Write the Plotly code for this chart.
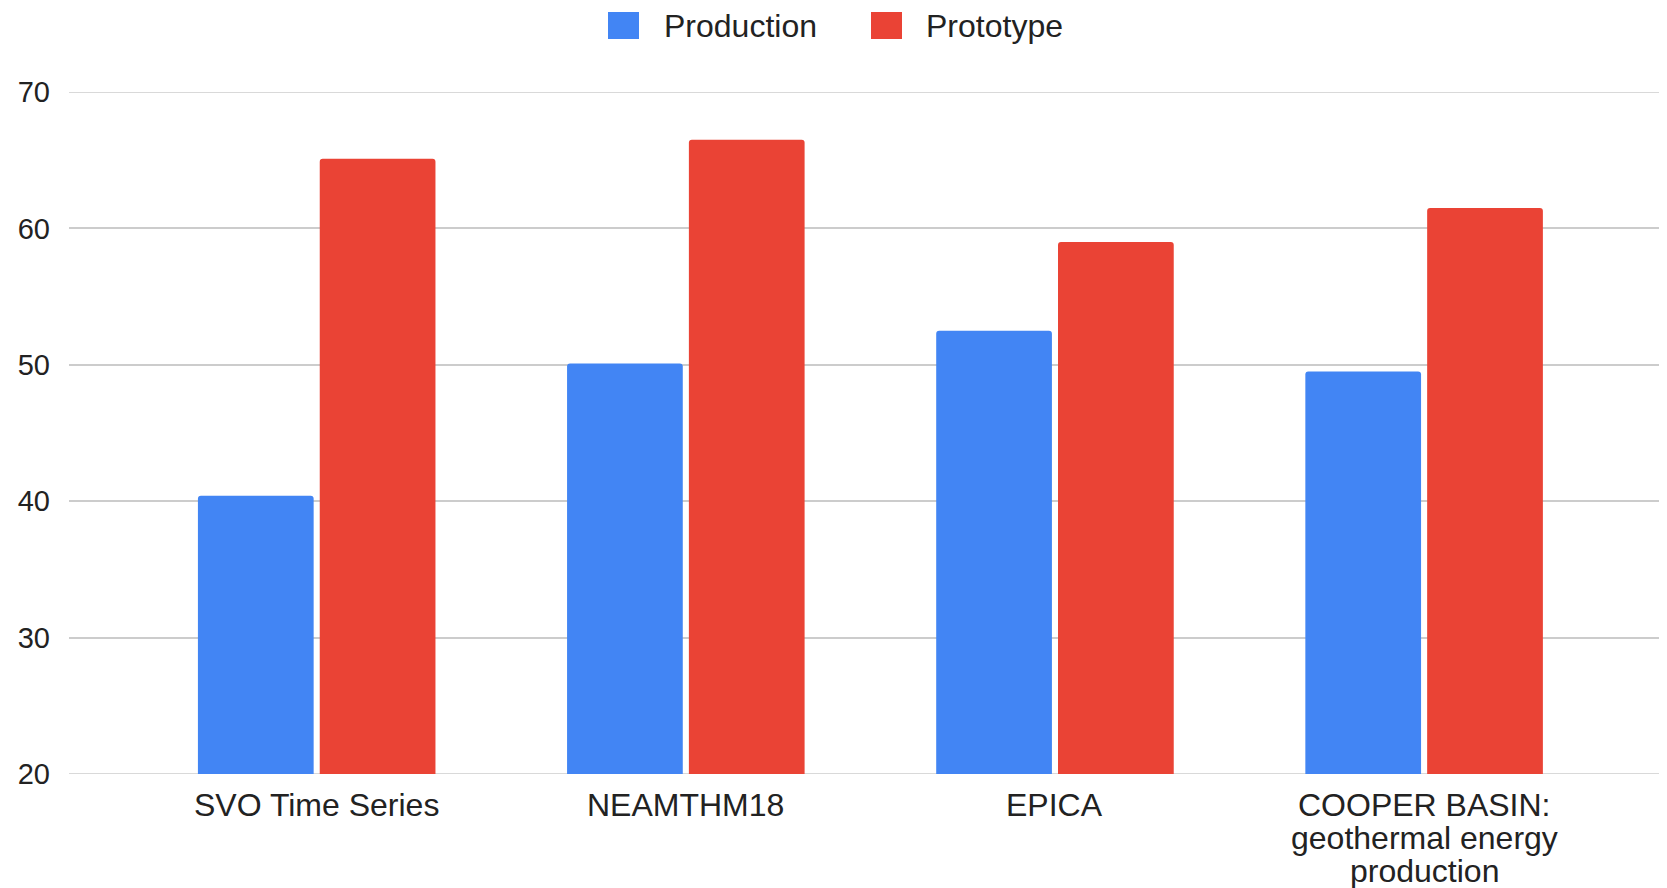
import plotly.graph_objects as go

categories = ["SVO Time Series", "NEAMTHM18", "EPICA",
              "COOPER BASIN:<br>geothermal energy<br>production"]
production = [40.4, 50.1, 52.5, 49.5]
prototype = [65.1, 66.5, 59.0, 61.5]
series_names = ["Production", "Prototype"]
y_ticks = [20, 30, 40, 50, 60, 70]

BLUE = "#4285F4"
RED = "#EA4335"
FONT = "Liberation Sans, Arial, sans-serif"
TXT = "#222222"

# page body has an 8px margin; compensate so the figure fills the 1667x888 window
OFF = 8
W, H = 1667 - OFF, 888 - OFF
ML, MR, MT, MB = 69 - OFF, 0, 92 - OFF, 114
Y0, Y1 = 20, 70

fig = go.Figure()
fig.add_trace(go.Bar(name=series_names[0], x=categories, y=production,
                     marker=dict(color=BLUE, cornerradius=3, line=dict(width=0)),
                     showlegend=False))
fig.add_trace(go.Bar(name=series_names[1], x=categories, y=prototype,
                     marker=dict(color=RED, cornerradius=3, line=dict(width=0)),
                     showlegend=False))

pw = W - ML - MR
ph = H - MT - MB


def px_x(px):
    return (px - OFF - ML) / pw


def px_y(py):
    return (H - MB - (py - OFF)) / ph


# custom legend (large swatches)
legend_items = [(series_names[0], BLUE, 608, 662), (series_names[1], RED, 871, 924)]
shapes = []
annotations = []
for name, col, sx, tx in legend_items:
    shapes.append(dict(type="rect", xref="paper", yref="paper",
                       x0=px_x(sx), x1=px_x(sx + 31), y0=px_y(39), y1=px_y(12),
                       fillcolor=col, line=dict(width=0), layer="above"))
    annotations.append(dict(text=name, xref="paper", yref="paper",
                            x=px_x(tx), y=px_y(25.5), xanchor="left", yanchor="middle",
                            showarrow=False, font=dict(family=FONT, size=32, color=TXT)))

# baseline / top gridlines at the range edges
for yv in (Y0, Y1):
    shapes.append(dict(type="line", xref="paper", yref="y", x0=0, x1=1, y0=yv, y1=yv,
                       line=dict(color="#cccccc", width=1.5), layer="below"))

# category labels with tight line spacing
for cat in categories:
    for i, line in enumerate(cat.split("<br>")):
        annotations.append(dict(text=line, xref="x", yref="y", x=cat, y=Y0,
                                xanchor="center", yanchor="middle",
                                yshift=-(31 + 33 * i), showarrow=False,
                                font=dict(family=FONT, size=32, color=TXT)))

fig.update_layout(
    width=W, height=H,
    margin=dict(l=ML, r=MR, t=MT, b=MB, pad=0),
    paper_bgcolor="white", plot_bgcolor="white",
    barmode="group", bargap=0.34, bargroupgap=0.05,
    showlegend=False,
    font=dict(family=FONT, color=TXT),
    shapes=shapes, annotations=annotations,
    xaxis=dict(range=[-0.671, 3.658], showgrid=False, showline=False, zeroline=False,
               showticklabels=False, ticks=""),
    yaxis=dict(range=[Y0, Y1], tickvals=y_ticks, showgrid=True, gridcolor="#cccccc",
               gridwidth=1.5, zeroline=False, showline=False,
               tickfont=dict(family=FONT, size=29, color=TXT), ticks="",
               ticklabelstandoff=18),
)

fig.write_html("out.html")
